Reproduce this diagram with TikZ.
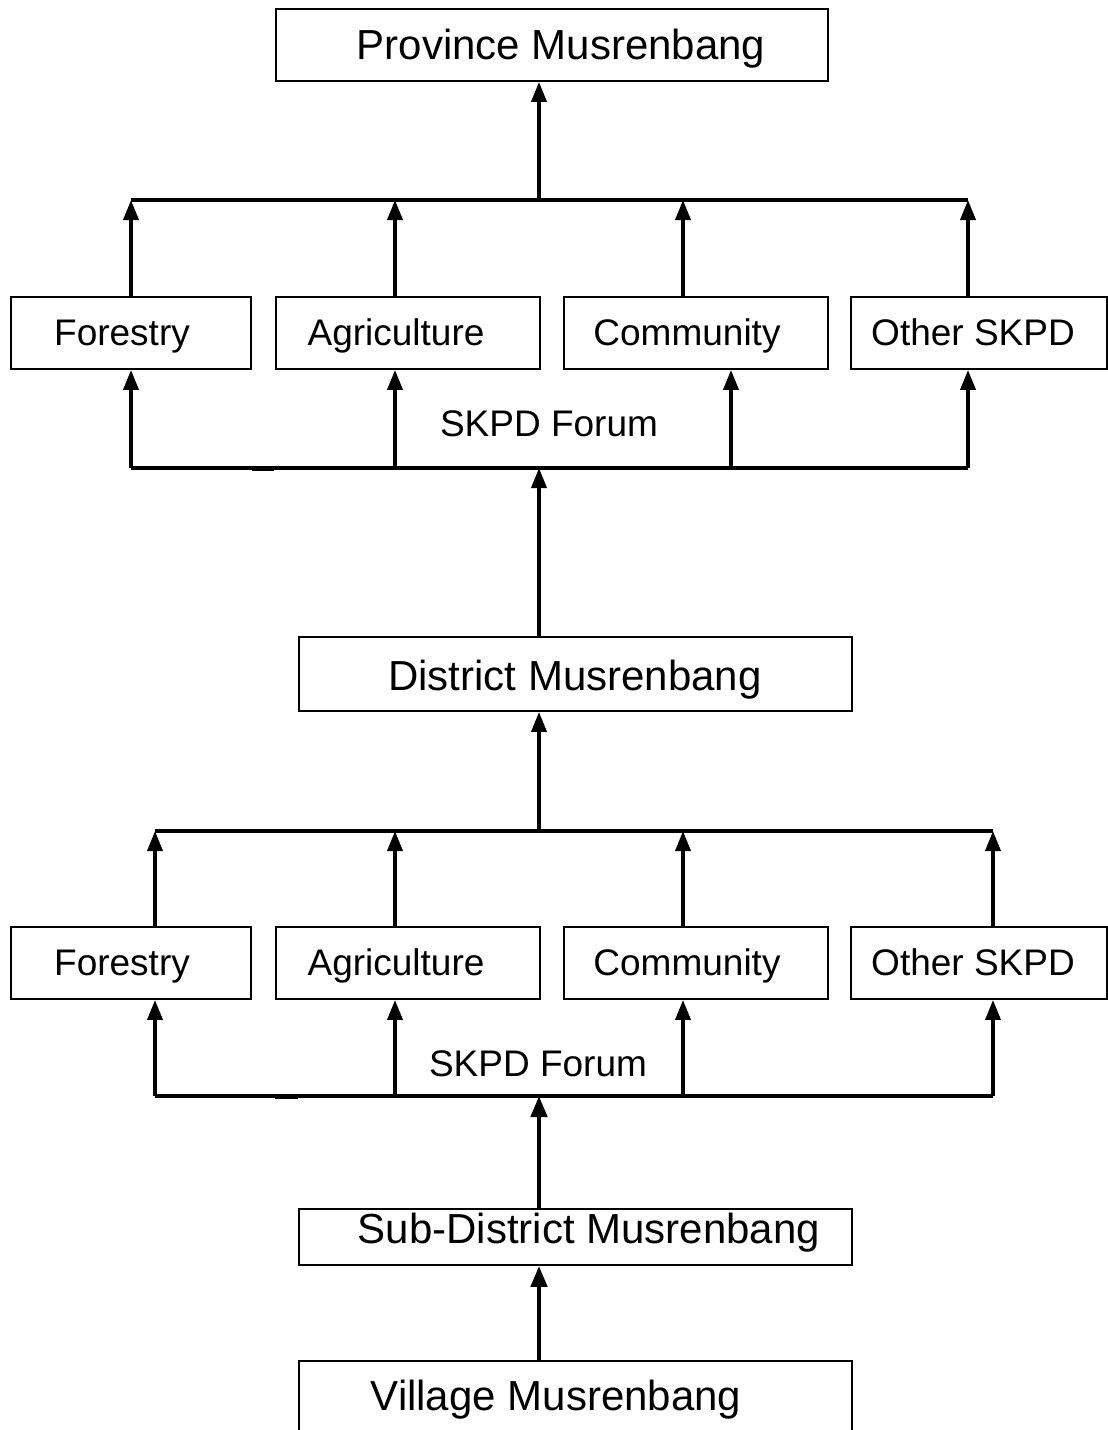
\documentclass[tikz,border=0pt]{standalone}
\usepackage{fontspec}
\setmainfont{Liberation Sans}
\usetikzlibrary{arrows.meta}
\begin{document}
\begin{tikzpicture}[x=1pt,y=-1pt,
  box/.style={draw, line width=1.9pt, inner sep=0pt, anchor=north west},
  big/.style={font=\fontsize{42}{50}\selectfont, anchor=base, inner sep=0pt},
  small/.style={font=\fontsize{37}{44}\selectfont, anchor=base, inner sep=0pt},
  bus/.style={line width=3.6pt},
  up/.style={line width=3.6pt, -{Triangle[width=15pt,length=20pt]}},
  thickup/.style={line width=4.6pt, -{Triangle[width=16pt,length=21pt]}},
  ]
\clip (0,0) rectangle (1108,1430);

% ---------- boxes ----------
\node[box, minimum width=552pt, minimum height=72pt] (prov) at (275,8) {};
\node[box, minimum width=240pt, minimum height=72pt] (fo1) at (10,296) {};
\node[box, minimum width=264pt, minimum height=72pt] (ag1) at (275,296) {};
\node[box, minimum width=264pt, minimum height=72pt] (co1) at (563,296) {};
\node[box, minimum width=256pt, minimum height=72pt] (ot1) at (850,296) {};
\node[box, minimum width=553pt, minimum height=74pt] (dist) at (298,636) {};
\node[box, minimum width=240pt, minimum height=72pt] (fo2) at (10,926) {};
\node[box, minimum width=264pt, minimum height=72pt] (ag2) at (275,926) {};
\node[box, minimum width=264pt, minimum height=72pt] (co2) at (563,926) {};
\node[box, minimum width=256pt, minimum height=72pt] (ot2) at (850,926) {};
\node[box, minimum width=553pt, minimum height=56pt] (sub) at (298,1208) {};
\node[box, minimum width=553pt, minimum height=120pt] (vil) at (298,1360) {};

% ---------- labels ----------
\node[big] (prov-t) at (561,59.5) {Province Musrenbang};
\node[small] (fo1-t) at (122,345) {Forestry};
\node[small] (ag1-t) at (396,345) {Agriculture};
\node[small] (co1-t) at (687,345) {Community};
\node[small] (ot1-t) at (973,345) {Other SKPD};
\node[small] (forum1) at (549,436) {SKPD Forum};
\node[big] (dist-t) at (575,690) {District Musrenbang};
\node[small] (fo2-t) at (122,975) {Forestry};
\node[small] (ag2-t) at (396,975) {Agriculture};
\node[small] (co2-t) at (687,975) {Community};
\node[small] (ot2-t) at (973,975) {Other SKPD};
\node[small] (forum2) at (538,1076) {SKPD Forum};
\node[big] (sub-t) at (589,1243) {Sub-District Musrenbang};
\node[big] (vil-t) at (556,1410) {Village Musrenbang};

% ---------- bus junctions ----------
% upper block: collector above the sectors, forum bus below them
\coordinate (ua) at (131,200);  \coordinate (ub) at (395,200);
\coordinate (uc) at (683,200);  \coordinate (ud) at (968,200);
\coordinate (um) at (539,200);
\coordinate (la) at (131,468);  \coordinate (lb) at (395,468);
\coordinate (lc) at (731,468);  \coordinate (ld) at (968,468);
\coordinate (lm) at (539,468);
% lower block
\coordinate (va) at (155,831);  \coordinate (vb) at (395,831);
\coordinate (vc) at (683,831);  \coordinate (vd) at (993,831);
\coordinate (vm) at (539,831);
\coordinate (wa) at (155,1096); \coordinate (wb) at (395,1096);
\coordinate (wc) at (683,1096); \coordinate (wd) at (993,1096);
\coordinate (wm) at (539,1096);

% ---------- bus lines ----------
\draw[bus] (ua) -- (ud);
\draw[bus] (la) -- (ld);
\draw[line width=5pt] (252,468) -- (274,468);
\draw[bus] (va) -- (vd);
\draw[bus] (wa) -- (wd);
\draw[line width=5pt] (275,1096) -- (298,1096);

% ---------- upper block connectors ----------
\draw[up] (um) -- (um |- prov.south);
\draw[up] (ua |- fo1.north) -- (ua);
\draw[up] (ub |- ag1.north) -- (ub);
\draw[up] (uc |- co1.north) -- (uc);
\draw[up] (ud |- ot1.north) -- (ud);
\draw[up] (la) -- (la |- fo1.south);
\draw[up] (lb) -- (lb |- ag1.south);
\draw[up] (lc) -- (lc |- co1.south);
\draw[up] (ld) -- (ld |- ot1.south);
\draw[up] (lm |- dist.north) -- (lm);

% ---------- lower block connectors ----------
\draw[up] (vm) -- (vm |- dist.south);
\draw[up] (va |- fo2.north) -- (va);
\draw[up] (vb |- ag2.north) -- (vb);
\draw[up] (vc |- co2.north) -- (vc);
\draw[up] (vd |- ot2.north) -- (vd);
\draw[up] (wa) -- (wa |- fo2.south);
\draw[up] (wb) -- (wb |- ag2.south);
\draw[up] (wc) -- (wc |- co2.south);
\draw[up] (wd) -- (wd |- ot2.south);
\draw[thickup] (wm |- sub.north) -- (wm);
\draw[thickup] (wm |- vil.north) -- (wm |- sub.south);
\end{tikzpicture}
\end{document}
